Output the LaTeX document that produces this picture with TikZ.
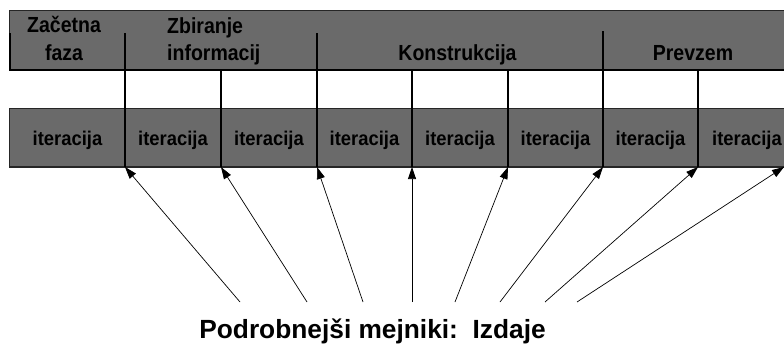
\documentclass[tikz,border=0pt]{standalone}
\usepackage{fontspec}
\usepackage{graphicx}
\setmainfont{Liberation Sans}
\usetikzlibrary{arrows.meta}
\definecolor{barfill}{RGB}{106,106,106}
\newcommand{\tallA}[1]{\scalebox{1}[1.12]{#1}}
\begin{document}
\begin{tikzpicture}[x=1pt,y=-1pt,
  hdr/.style={font=\bfseries\fontsize{19.5}{22}\selectfont, inner sep=0pt, anchor=base},
  itr/.style={font=\bfseries\fontsize{18.4}{22}\selectfont, inner sep=0pt, anchor=base},
  divider/.style={draw=black, line width=2pt},
  milestone/.style={draw=black, line width=0.7pt, -{Triangle[length=12pt,width=8pt]}}
]
\useasboundingbox (0,0) rectangle (784,346);
% bars
\fill[barfill, draw=black!85, line width=0.9pt] (9,10) rectangle (800,70);
\draw[divider] (10,33) -- (10,70) -- (800,70);
\fill[barfill, draw=black!85, line width=0.9pt] (9,108) rectangle (800,167);
\draw[draw=black!85, line width=1.6pt] (9,167) -- (800,167);
% divider coordinates
\foreach \n/\x/\y in {1/125/33, 2/221/70, 3/317/33, 4/412/70, 5/508/70, 6/603/31, 7/698/70} {
  \coordinate (d\n top) at (\x,\y);
  \coordinate (d\n) at (\x,167);
  \draw[divider] (d\n top) -- (d\n);
}
\coordinate (d8) at (784,167);
% header texts
\node[hdr] (h1a) at (64,32) {\tallA{Začetna}};
\node[hdr] (h1b) at (64,60) {\tallA{faza}};
\node[hdr, anchor=base west] (h2a) at (167,33) {\tallA{Zbiranje}};
\node[hdr, anchor=base west] (h2b) at (167,60) {\tallA{informacij}};
\node[hdr] (h3) at (457.5,60) {\tallA{Konstrukcija}};
\node[hdr] (h4) at (693,60) {\tallA{Prevzem}};
% iteration texts
\foreach \n/\x in {1/67.5, 2/173, 3/269, 4/364.5, 5/460, 6/555.5, 7/650.5, 8/747} {
  \node[itr] (it\n) at (\x,145) {\scalebox{1}[1.08]{iteracija}};
}
% milestones
\node[font=\bfseries\fontsize{26.3}{30}\selectfont, inner sep=0pt, anchor=base] (ms) at (372.5,338) {Podrobnejši mejniki:\ \ Izdaje};
\foreach \n/\x in {1/240, 2/307, 3/363, 4/412, 5/455, 6/500, 7/545, 8/577} {
  \coordinate (s\n) at (\x,302);
  \draw[milestone] (s\n) -- (d\n);
}
\end{tikzpicture}
\end{document}
